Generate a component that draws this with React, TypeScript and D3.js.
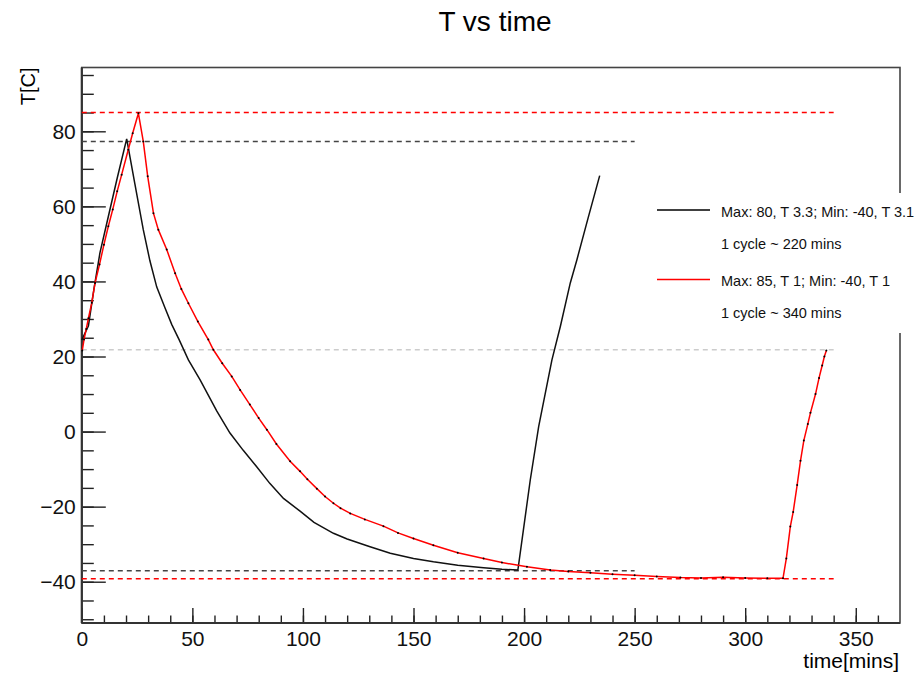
import React, { useRef, useEffect } from 'react';
import * as d3 from 'd3';

const WIDTH = 919;
const HEIGHT = 674;

// black run: Max 80, T 3.3; Min -40, T 3.1  [time (mins), T (C)]
const blackCurve: [number, number][] = [
  [0, 24.4], [1.5, 26.3], [3, 28.2], [5.5, 38], [8.2, 47.6], [12, 57.3], [16, 67.5], [20.3, 78],
  [24, 66], [27.8, 53.8], [30.8, 45.5], [33.9, 38.5], [37.6, 33], [40.7, 28.5], [44, 24.5],
  [48.2, 19.1], [53.5, 13.8], [61, 5.5], [67, -0.4], [73, -5], [79, -9.3], [85, -13.8],
  [91.2, -17.8], [98.7, -21.2], [105, -24.2], [113.8, -27.1], [120, -28.6], [130, -30.6],
  [139.5, -32.4], [150, -33.8], [159, -34.7], [170, -35.6], [181.7, -36.3], [190, -36.7],
  [197.2, -36.9], [202.8, -12.9], [206.6, 1.3], [212.6, 19.1], [216.4, 28], [220.9, 39.6],
  [223.9, 45.8], [229, 57], [234.2, 68.2]
];

// red run: Max 85, T 1; Min -40, T 1
const redCurve: [number, number][] = [
  [0.2, 21.6], [1, 24.5], [2, 27.3], [3, 30.2], [4.5, 34.3], [6, 39.6], [8, 44.5], [10, 49.8],
  [12, 54.7], [14, 59.2], [16, 64], [18, 68.4], [21, 75.1], [23, 79.5], [25.6, 84.8],
  [27.8, 77.3], [29.8, 68], [32.4, 58.2], [34.6, 53.8], [38.4, 48.5], [42.2, 42.2], [45, 38],
  [48.2, 34.2], [52.5, 29.3], [57.2, 24.5], [59.5, 21.8], [63.5, 18.2], [67.8, 14.7],
  [71.6, 11.1], [76, 7.2], [80, 3.6], [83.7, 0.5], [88, -3.3], [94.2, -7.9], [98.7, -10.6],
  [102, -12.7], [106.3, -15.2], [110, -17.3], [113.8, -19.1], [117, -20.4], [121.4, -21.8],
  [128, -23.4], [136.4, -25.2], [143, -27], [150, -28.5], [159, -30.3], [170, -32.3],
  [181.7, -33.8], [190, -34.9], [201.3, -36], [211.8, -36.9], [220, -37.3], [230, -37.6],
  [240, -38], [250, -38.3], [260, -38.6], [270.7, -38.9], [280, -39], [290, -38.8], [300, -39],
  [310, -39.1], [317.1, -39.1], [318.6, -33.8], [320.4, -25.3], [321.7, -21.4], [323.5, -14.2],
  [325, -7.8], [326.5, -2.4], [328.3, 2.0], [329.5, 5.0], [331.8, 10.0], [333.4, 14.3],
  [334.8, 17.6], [335.8, 20.0], [336.7, 21.6]
];

// reference lines: [T, end time, colour]
const refLines: [number, number, string][] = [
  [85, 340, '#ff0000'],
  [77.3, 250, '#444444'],
  [21.8, 340, '#cccccc'],
  [-37.1, 250, '#444444'],
  [-39.2, 340, '#ff0000']
];

const xMajor = [0, 50, 100, 150, 200, 250, 300, 350];
const xMinor = d3.range(0, 370, 10);
const yMajor = [-40, -20, 0, 20, 40, 60, 80];
const yMinor = d3.range(-50, 97, 5);

const legendItems = [
  { color: '#000000', label: 'Max: 80, T 3.3; Min: -40, T 3.1', note: '1 cycle ~ 220 mins' },
  { color: '#ff0000', label: 'Max: 85, T 1; Min: -40, T 1', note: '1 cycle ~ 340 mins' }
];

const FONT = '"Liberation Sans", Arial, Helvetica, sans-serif';

const App: React.FC = () => {
  const svgRef = useRef<SVGSVGElement>(null);

  useEffect(() => {
    const svg = d3.select(svgRef.current);
    svg.selectAll('*').remove();

    const left = 81.8, right = 900, top = 67.5, bottom = 623;

    const x = d3.scaleLinear().domain([0, 370]).range([left, right]);
    const y = d3.scaleLinear().domain([-51, 97]).range([bottom, top]);

    svg.append('rect')
      .attr('width', WIDTH).attr('height', HEIGHT).attr('fill', '#fff');

    // title
    svg.append('text')
      .attr('x', 495).attr('y', 31)
      .attr('text-anchor', 'middle')
      .style('font-family', FONT).style('font-size', '28px')
      .text('T vs time');

    // axes
    const styleAxis = (g: d3.Selection<SVGGElement, unknown, null, undefined>) => {
      g.select('.domain').remove();
      g.selectAll('line').attr('stroke', '#222').attr('stroke-width', 1.4);
      g.selectAll('text')
        .attr('fill', '#111')
        .style('font-family', FONT).style('font-size', '21px');
    };

    svg.append('g')
      .attr('transform', `translate(${left},0)`)
      .call(d3.axisLeft(y).tickValues(yMinor).tickSize(-12).tickFormat(() => ''))
      .call(styleAxis);
    svg.append('g')
      .attr('transform', `translate(${left},0)`)
      .call(d3.axisLeft(y).tickValues(yMajor).tickSize(-24).tickPadding(6))
      .call(styleAxis);

    svg.append('g')
      .attr('transform', `translate(0,${bottom})`)
      .call(d3.axisBottom(x).tickValues(xMinor).tickSize(-7.5).tickFormat(() => ''))
      .call(styleAxis);
    svg.append('g')
      .attr('transform', `translate(0,${bottom})`)
      .call(d3.axisBottom(x).tickValues(xMajor).tickSize(-15).tickPadding(8))
      .call(styleAxis);

    // frame
    svg.append('rect')
      .attr('x', left).attr('y', top)
      .attr('width', right - left).attr('height', bottom - top)
      .attr('fill', 'none').attr('stroke', '#444').attr('stroke-width', 1.6);
    svg.append('line')
      .attr('x1', left).attr('x2', left).attr('y1', top).attr('y2', bottom)
      .attr('stroke', '#333').attr('stroke-width', 2.2);
    svg.append('line')
      .attr('x1', left).attr('x2', right).attr('y1', bottom).attr('y2', bottom)
      .attr('stroke', '#333').attr('stroke-width', 2.2);

    // axis titles
    svg.append('text')
      .attr('transform', `translate(35,${top}) rotate(-90)`)
      .attr('text-anchor', 'end')
      .style('font-family', FONT).style('font-size', '20px')
      .text('T[C]');
    svg.append('text')
      .attr('x', 899).attr('y', 668)
      .attr('text-anchor', 'end')
      .style('font-family', FONT).style('font-size', '21px')
      .text('time[mins]');

    // dashed reference lines
    svg.append('g')
      .selectAll('line')
      .data(refLines)
      .enter()
      .append('line')
      .attr('x1', x(0))
      .attr('x2', d => x(d[1]))
      .attr('y1', d => y(d[0]))
      .attr('y2', d => y(d[0]))
      .attr('stroke', d => d[2])
      .attr('stroke-width', 1.5)
      .attr('stroke-dasharray', '5,4');

    const line = d3.line<[number, number]>()
      .x(d => x(d[0]))
      .y(d => y(d[1]));

    svg.append('path')
      .datum(blackCurve)
      .attr('fill', 'none')
      .attr('stroke', '#111')
      .attr('stroke-width', 1.5)
      .attr('d', line);

    svg.append('path')
      .datum(redCurve)
      .attr('fill', 'none')
      .attr('stroke', '#ff0000')
      .attr('stroke-width', 1.5)
      .attr('d', line);

    svg.append('g')
      .selectAll('circle')
      .data(redCurve)
      .enter()
      .append('circle')
      .attr('cx', d => x(d[0]))
      .attr('cy', d => y(d[1]))
      .attr('r', 1)
      .attr('fill', '#000');

    // legend (white box hides part of the frame)
    const legend = svg.append('g');
    legend.append('rect')
      .attr('x', 645).attr('y', 193)
      .attr('width', 280).attr('height', 140)
      .attr('fill', '#fff');
    legendItems.forEach((item, i) => {
      const y0 = 210 + i * 69.5;
      legend.append('line')
        .attr('x1', 657).attr('x2', 710)
        .attr('y1', y0).attr('y2', y0)
        .attr('stroke', item.color).attr('stroke-width', 1.5);
      legend.append('text')
        .attr('x', 721).attr('y', y0 + 6.5)
        .attr('fill', '#111')
        .style('font-family', FONT).style('font-size', '14.5px')
        .text(item.label);
      legend.append('text')
        .attr('x', 721).attr('y', y0 + 38.5)
        .attr('fill', '#111')
        .style('font-family', FONT).style('font-size', '14.5px')
        .text(item.note);
    });
  }, []);

  return (
    <svg
      ref={svgRef}
      width={WIDTH}
      height={HEIGHT}
      style={{ position: 'absolute', left: 0, top: 0 }}
    />
  );
};

export default App;
